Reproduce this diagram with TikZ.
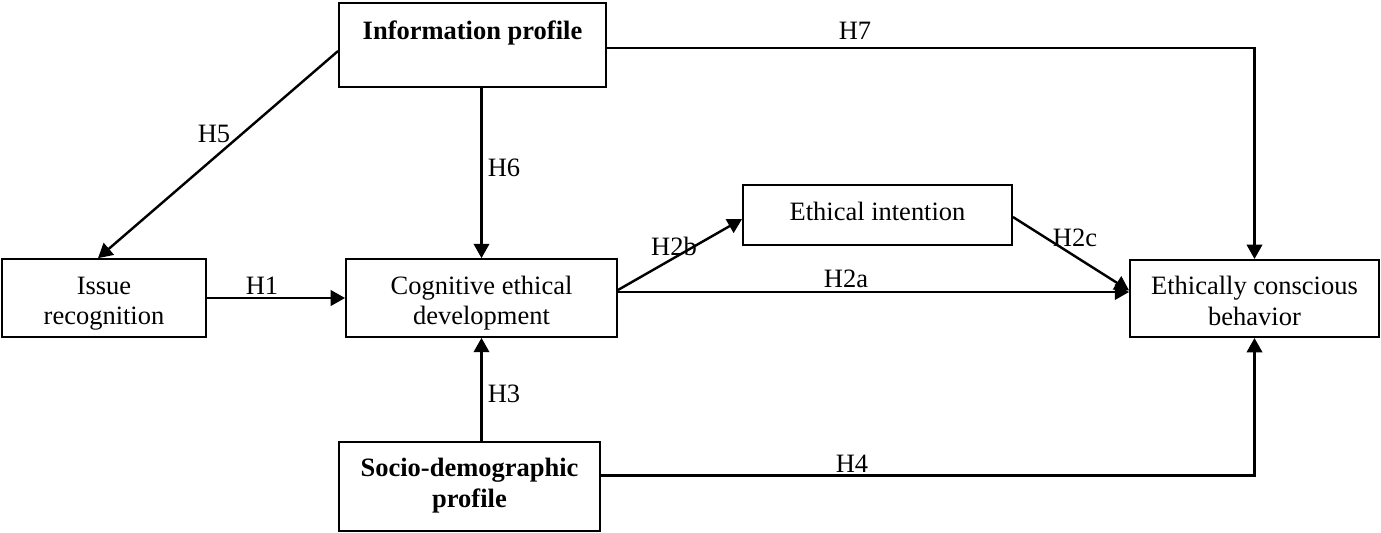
\documentclass[tikz,border=0pt]{standalone}
\usepackage{fontspec}
\setmainfont{Liberation Serif}
\usetikzlibrary{arrows.meta, calc}

\begin{document}
\begin{tikzpicture}[x=0.453pt, y=-0.453pt,
  box/.style={draw, line width=0.8pt, inner sep=0pt, align=center, font=\fontsize{12}{14}\selectfont},
  conn/.style={line width=1.1pt, -{Triangle[length=6.5pt, width=7pt]}},
  hlab/.style={inner sep=0pt, font=\fontsize{12}{14}\selectfont}]
  \useasboundingbox (0,0) rectangle (1381,532);

  % Constructs
  \node[box, font=\fontsize{12}{14}\selectfont\bfseries, minimum width=121pt, minimum height=38pt, text height=8pt, text depth=12.6pt] (info) at (472.5, 45) {Information profile};
  \node[box, minimum width=92.4pt, minimum height=35.3pt, text height=27.4pt, text depth=3pt] (issue) at (104, 298) {Issue\\recognition};
  \node[box, minimum width=122.8pt, minimum height=35.3pt, text height=27.4pt, text depth=3pt] (cog) at (481.5, 298) {Cognitive ethical\\development};
  \node[box, minimum width=121.9pt, minimum height=27.2pt, text height=7.6pt, text depth=3pt] (intent) at (877.5, 215) {Ethical intention};
  \node[box, minimum width=112.8pt, minimum height=35pt, text height=27.4pt, text depth=3pt] (behav) at (1254.5, 298.5) {Ethically conscious\\behavior};
  \node[box, font=\fontsize{12}{14}\selectfont\bfseries, minimum width=118.2pt, minimum height=40.3pt, text height=21.6pt, text depth=3pt] (socio) at (469.5, 486.5) {Socio-demographic\\profile};

  % Connector ends
  \coordinate (h2bstart) at ($(cog.east)+(0,-8)$);
  \coordinate (h2astart) at ($(cog.east)+(0,-6)$);
  \coordinate (h2cend) at ($(behav.west)+(0,-8)$);
  \coordinate (h4start) at ($(socio.east)+(0,-11)$);

  % Hypotheses
  \draw[conn] ($(info.west)+(0,6)$) -- ($(issue.north)+(-6,0)$);
  \draw[conn] (info.south -| cog.north) -- (cog.north);
  \draw[conn] ($(info.east)+(0,3)$) -| (behav.north);
  \draw[conn] (issue.east) -- (cog.west);
  \draw[conn] (h2bstart) -- ($(intent.west)+(0,4)$);
  \draw[conn] (h2astart) -- (h2astart -| behav.west);
  \draw[conn] ($(intent.east)+(0,2)$) -- (h2cend);
  \draw[conn] (socio.north -| cog.south) -- (cog.south);
  \draw[conn] (h4start) -| (behav.south);

  % Labels
  \node[hlab] (l1) at (262, 286) {H1};
  \node[hlab] (l2a) at (846, 279) {H2a};
  \node[hlab] (l2b) at (674, 246) {H2b};
  \node[hlab] (l2c) at (1075, 238) {H2c};
  \node[hlab] (l3) at (504, 394) {H3};
  \node[hlab] (l4) at (852, 464) {H4};
  \node[hlab] (l5) at (214, 134) {H5};
  \node[hlab] (l6) at (504, 168) {H6};
  \node[hlab] (l7) at (855, 31) {H7};
\end{tikzpicture}
\end{document}
